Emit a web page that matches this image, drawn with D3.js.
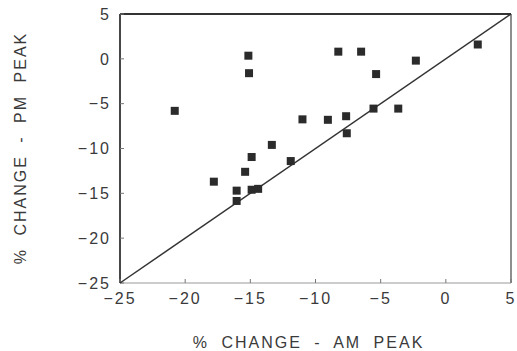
<!DOCTYPE html>
<html>
<head>
<meta charset="utf-8">
<script src="https://cdn.jsdelivr.net/npm/d3@7.9.0/dist/d3.min.js"></script>
<style>
  body { margin: 0; background: #fff; }
  text { font-family: "Liberation Sans", Arial, sans-serif; fill: #3a3a3a; }
</style>
</head>
<body>
<svg id="chart" width="517" height="351"></svg>
<script>
// % change in AM peak (x) vs PM peak (y), one entry per site
const amChange = [-20.8, -15.15, -15.1, -17.8, -16.05, -16.05, -15.4, -14.9, -14.4, -14.9,
  -13.35, -11.9, -11.0, -9.05, -7.65, -7.6, -8.25, -6.5, -5.35, -5.55, -3.65, -2.3, 2.45];
const pmChange = [-5.8, 0.35, -1.6, -13.7, -14.7, -15.85, -12.6, -14.6, -14.5, -10.95,
  -9.6, -11.4, -6.75, -6.8, -6.4, -8.3, 0.8, 0.8, -1.7, -5.55, -5.55, -0.2, 1.6];
const xTicks = [-25, -20, -15, -10, -5, 0, 5];
const yTicks = [5, 0, -5, -10, -15, -20, -25];

const margin = { top: 14, right: 6, bottom: 68, left: 120 };
const width = 517 - margin.left - margin.right;
const height = 351 - margin.top - margin.bottom;

const svg = d3.select('#chart');
const g = svg.append('g').attr('transform', `translate(${margin.left},${margin.top})`);

const x = d3.scaleLinear().domain([-25, 5]).range([0, width]);
const y = d3.scaleLinear().domain([-25, 5]).range([height, 0]);

const fmt = d => (d < 0 ? '\u2212' + Math.abs(d) : String(d));

// frame: left + top heavier, right thin, bottom faded
g.append('line').attr('x1', 0).attr('x2', 0).attr('y1', 0).attr('y2', height)
  .attr('stroke', '#333').attr('stroke-width', 1.8);
g.append('line').attr('x1', 0).attr('x2', width).attr('y1', 0).attr('y2', 0)
  .attr('stroke', '#333').attr('stroke-width', 1.8);
g.append('line').attr('x1', width).attr('x2', width).attr('y1', 0).attr('y2', height)
  .attr('stroke', '#444').attr('stroke-width', 1.2);
g.append('line').attr('x1', 0).attr('x2', width).attr('y1', height).attr('y2', height)
  .attr('stroke', '#999').attr('stroke-width', 1.2);

// small inward ticks
g.selectAll('.ytick').data(yTicks).enter().append('line')
  .attr('x1', 0).attr('x2', 4).attr('y1', d => y(d)).attr('y2', d => y(d))
  .attr('stroke', '#777');
g.selectAll('.xtick').data(xTicks).enter().append('line')
  .attr('x1', d => x(d)).attr('x2', d => x(d)).attr('y1', height).attr('y2', height - 4)
  .attr('stroke', '#777');

// tick labels
g.selectAll('.ylab').data(yTicks).enter().append('text')
  .attr('x', -9).attr('y', d => y(d)).attr('dy', '0.36em')
  .attr('text-anchor', 'end').attr('font-size', 16).attr('letter-spacing', 2)
  .text(fmt);
g.selectAll('.xlab').data(xTicks).enter().append('text')
  .attr('x', d => x(d)).attr('y', height + 21)
  .attr('text-anchor', 'middle').attr('font-size', 16).attr('letter-spacing', 2)
  .text(fmt);

// y = x reference line
g.append('line')
  .attr('x1', x(-25)).attr('y1', y(-25)).attr('x2', x(5)).attr('y2', y(5))
  .attr('stroke', '#333').attr('stroke-width', 1.5);

// points
const pts = amChange.map((d, i) => ({ am: d, pm: pmChange[i] }));
const s = 8;
g.selectAll('rect.pt').data(pts).enter().append('rect')
  .attr('class', 'pt')
  .attr('x', d => x(d.am) - s / 2).attr('y', d => y(d.pm) - s / 2)
  .attr('width', s).attr('height', s)
  .attr('fill', '#2b2b2b');

// axis titles
svg.append('text')
  .attr('x', margin.left + width / 2 - 7).attr('y', 348)
  .attr('text-anchor', 'middle').attr('font-size', 16)
  .attr('letter-spacing', 2).attr('word-spacing', 6)
  .text('% CHANGE - AM PEAK');
svg.append('text')
  .attr('transform', 'translate(26,148) rotate(-90)')
  .attr('text-anchor', 'middle').attr('font-size', 16)
  .attr('letter-spacing', 2).attr('word-spacing', 6)
  .text('% CHANGE - PM PEAK');
</script>
</body>
</html>
